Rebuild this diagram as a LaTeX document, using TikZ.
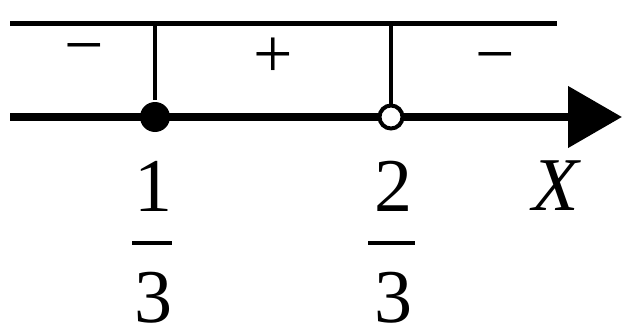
\documentclass[tikz,border=0pt]{standalone}
\usepackage{fontspec}
\setmainfont{Liberation Serif}
\usetikzlibrary{arrows.meta}
\begin{document}
\begin{tikzpicture}[x=.5pt,y=-.5pt,line width=2pt]
\tikzset{plein/.style={circle,fill,inner sep=0pt,minimum size=15pt},
  creux/.style={circle,draw,fill=white,line width=2pt,inner sep=0pt,minimum size=11.5pt},
  signe/.style={font=\fontsize{35}{35}\selectfont,inner sep=0pt},
  chiffre/.style={font=\fontsize{38}{38}\selectfont,inner sep=0pt}}
\useasboundingbox (0,0) rectangle (622,332);
% Ligne du haut et axe
\coordinate (g) at (10,23);
\coordinate (d) at (557,23);
\coordinate (o) at (10,117);
\coordinate (fin) at (622,117);
\draw[line width=2.5pt] (g) -- (d);
\draw[line width=4pt,-{Triangle[length=27pt,width=30pt]}] (o) -- (fin);
% Les points 1/3 (inclus) et 2/3 (exclu)
\node[plein] (p1) at (155,117) {};
\node[creux] (p2) at (391,117) {};
\draw (p1 |- g) -- (p1);
\draw (p2 |- g) -- (p2);
% Signes
\node[signe] (s1) at (84,56) {−};
\node[signe] (s2) at (273,58) {+};
\node[signe] (s3) at (495,65) {−};
% Fractions sous l'axe
\node[chiffre] (n1) at (153,186) {1};
\node[chiffre] (d1) at (153,298) {3};
\draw (132,243) -- (172,243);
\node[chiffre] (n2) at (393,186) {2};
\node[chiffre] (d2) at (393,298) {3};
\draw (368,243) -- (415,243);
\node[chiffre] (x) at (556,186) {\itshape X};
\end{tikzpicture}
\end{document}
